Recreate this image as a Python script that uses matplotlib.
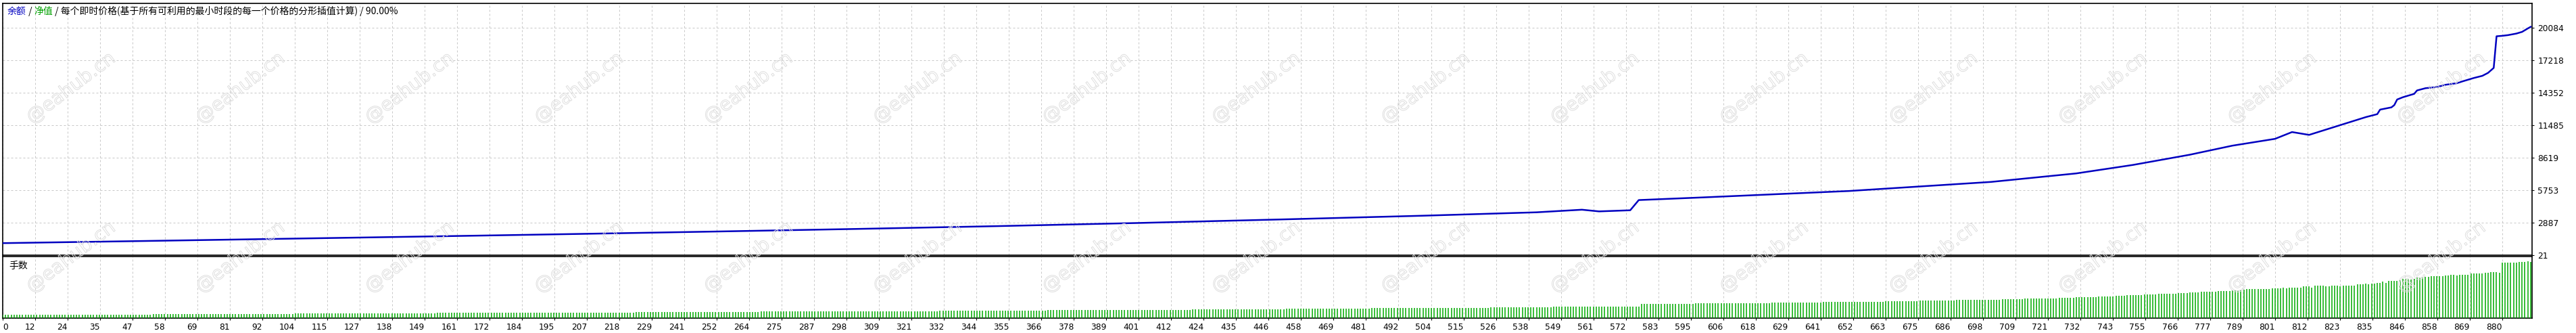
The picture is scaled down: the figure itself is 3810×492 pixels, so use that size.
import matplotlib
matplotlib.use("Agg")
import matplotlib.pyplot as plt
import matplotlib.patheffects as pe
import numpy as np

plt.rcParams['font.family'] = ['DejaVu Sans']
cjk = ['Noto Sans CJK SC', 'DejaVu Sans']

# balance curve at its turning points
bal_trade = [0, 50, 100, 150, 200, 250, 300, 350, 400, 450, 500, 540, 556, 562, 573,
             576, 600, 650, 700, 730, 750, 770, 785, 800, 806, 812, 832, 836, 837,
             841, 842, 843, 845, 849, 850, 853, 857, 860, 864, 866, 870, 873, 875,
             877, 878, 880, 882, 885, 887, 889, 890]
bal_value = [1100, 1290, 1490, 1690, 1900, 2120, 2350, 2600, 2880, 3190, 3520, 3820,
             4050, 3900, 4000, 4900, 5150, 5700, 6500, 7250, 8000, 8900, 9700, 10300,
             10900, 10650, 12220, 12480, 12880, 13080, 13280, 13770, 13970, 14270,
             14570, 14770, 14870, 15070, 15210, 15370, 15670, 15860, 16120, 16560,
             19350, 19390, 19450, 19590, 19740, 20040, 20180]

# lot size per trade, as runs of equal size (count, lots)
lot_counts = [26, 27, 25, 25, 25, 25, 24, 23, 23, 23, 21, 22, 21, 20, 20, 18, 18, 17,
              16, 17, 16, 15, 15, 15, 14, 13, 13, 9, 7, 6, 14, 4,
              9, 10, 9, 9, 9, 9, 9, 9, 6, 7, 6, 6, 6, 7, 6, 6,
              4, 4, 4, 4, 4, 4, 4, 2,
              3, 3, 2, 3, 3, 2, 2, 2,
              2, 2, 3, 2, 2, 2, 3, 2, 2,
              2, 2, 2, 2, 2, 3, 2,
              4, 1, 9, 4, 1, 1, 5, 3, 1, 4, 2, 3, 1, 5, 3, 1, 1, 2, 2, 1, 1,
              4, 1, 3, 1, 1, 3, 2, 5, 2, 2, 1, 4, 5, 1, 1, 3, 1, 6, 1, 2, 1, 1]
lot_sizes = [0.11, 0.12, 0.13, 0.14, 0.15, 0.16, 0.17, 0.18, 0.19, 0.20, 0.21, 0.22,
             0.23, 0.24, 0.25, 0.26, 0.27, 0.28, 0.29, 0.30, 0.31, 0.32, 0.33, 0.34,
             0.35, 0.36, 0.37, 0.38, 0.39, 0.40, 0.39, 0.40,
             0.49, 0.50, 0.51, 0.52, 0.53, 0.54, 0.55, 0.56, 0.57, 0.58, 0.59, 0.60,
             0.61, 0.62, 0.63, 0.64,
             0.65, 0.66, 0.67, 0.68, 0.69, 0.70, 0.71, 0.72,
             0.73, 0.74, 0.75, 0.76, 0.77, 0.78, 0.79, 0.80,
             0.81, 0.82, 0.83, 0.84, 0.85, 0.86, 0.87, 0.88, 0.89,
             0.90, 0.91, 0.92, 0.93, 0.94, 0.95, 0.96,
             0.97, 1.01, 1.03, 1.05, 1.07, 1.05, 1.07, 1.12, 1.07, 1.14, 1.12, 1.15,
             1.12, 1.15, 1.20, 1.22, 1.20, 1.22, 1.24, 1.29, 1.24,
             1.32, 1.34, 1.39, 1.37, 1.39, 1.43, 1.46, 1.49, 1.51, 1.53, 1.51, 1.54,
             1.58, 1.60, 1.61, 1.64, 1.60, 1.97, 1.99, 2.00, 2.02, 2.00]

x_labels = ['0', '12', '24', '35', '47', '58', '69', '81', '92', '104', '115', '127',
            '138', '149', '161', '172', '184', '195', '207', '218', '229', '241', '252',
            '264', '275', '287', '298', '309', '321', '332', '344', '355', '366', '378',
            '389', '401', '412', '424', '435', '446', '458', '469', '481', '492', '504',
            '515', '526', '538', '549', '561', '572', '583', '595', '606', '618', '629',
            '641', '652', '663', '675', '686', '698', '709', '721', '732', '743', '755',
            '766', '777', '789', '801', '812', '823', '835', '846', '858', '869', '880']
y_ticks = [21, 2887, 5753, 8619, 11485, 14352, 17218, 20084]

lots = np.repeat(lot_sizes, lot_counts)
trades = np.arange(len(lots))

W, H = 3810, 492
fig = plt.figure(figsize=(W / 100, H / 100), dpi=100)
left, right = 4 / W, 3745 / W
ax = fig.add_axes([left, 1 - 377.3 / H, right - left, (377.3 - 4.7) / H])
ax2 = fig.add_axes([left, 1 - 469.5 / H, right - left, (469.5 - 379) / H])

xt = np.linspace(0, 880, len(x_labels))
grid_kw = dict(color='#c8c8c8', linestyle=(0, (3, 3)), linewidth=0.72)

# main panel
ax.plot(bal_trade, bal_value, color='#0000c0', linewidth=1.8, zorder=3,
        solid_joinstyle='round')
ax.set_xlim(0, 890.5)
ax.set_ylim(21, 22269)
ax.set_xticks(xt)
ax.set_yticks(y_ticks)
ax.set_yticklabels([str(v) for v in y_ticks])
ax.yaxis.tick_right()
ax.tick_params(axis='x', length=0, labelbottom=False)
ax.tick_params(axis='y', direction='out', length=2.5, width=0.8, pad=3.5,
               labelsize=8.8, colors='black')
ax.grid(True, **grid_kw)

# lots panel
ax2.vlines(trades, 0, lots, color='#00aa00', linewidth=1.1, zorder=3)
ax2.set_xlim(0, 890.5)
ax2.set_ylim(0, 2.19)
ax2.set_xticks(xt)
ax2.set_xticklabels(x_labels)
ax2.set_yticks([])
ax2.tick_params(axis='x', direction='out', length=2.5, width=0.8, pad=3,
                labelsize=8.8)
for lab in ax2.get_xticklabels():
    lab.set_ha('right')
ax2.get_xticklabels()[0].set_ha('left')
ax2.xaxis.grid(True, **grid_kw)
ax2.text(0.0025, 0.84, '手数', transform=ax2.transAxes, family=cjk, fontsize=10,
         va='center', ha='left')

for a in (ax, ax2):
    for s in a.spines.values():
        s.set_linewidth(1.2)
        s.set_color('black')

# title line: 余额 / 净值 / ...
t1 = fig.text(11 / W, 1 - 17 / H, '余额', color='#0000c0', family=cjk, fontsize=10,
              va='center', ha='left')
parts = [(' / ', 'black'), ('净值', '#00a000'),
         (' / 每个即时价格(基于所有可利用的最小时段的每一个价格的分形插值计算) / 90.00%', 'black')]
prev = t1
for txt, col in parts:
    prev = ax.annotate(txt, xy=(1, 0), xycoords=prev, va='bottom', ha='left',
                       color=col, family=cjk, fontsize=10, annotation_clip=False)

# faint watermark
for cx in np.arange(105, 3720, 250.4):
    for cy in (130, 380):
        fig.text(cx / W, 1 - cy / H, '@eahub.cn', rotation=37, ha='center',
                 va='center', fontsize=20, color='none', zorder=5,
                 path_effects=[pe.Stroke(linewidth=0.7, foreground='#dedede')])

fig.savefig('out.png', dpi=100)
